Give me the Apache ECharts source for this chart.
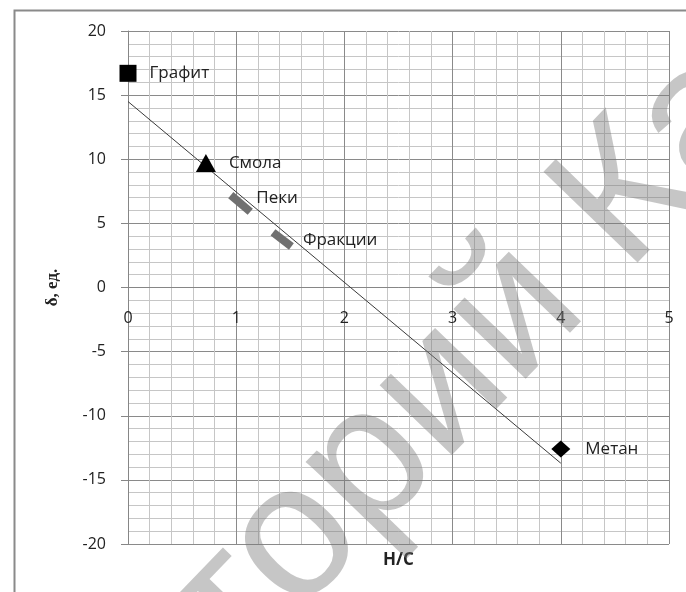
<!DOCTYPE html>
<html>
<head>
<meta charset="utf-8">
<script src="https://cdn.jsdelivr.net/npm/echarts@6/dist/echarts.min.js"></script>
<style>
  html, body { margin: 0; padding: 0; background: #fff; }
  #chart { width: 686px; height: 592px; }
</style>
</head>
<body>
<div id="chart"></div>
<script>
// Axis ranges and ticks
const xTicks = [0, 1, 2, 3, 4, 5];
const yTicks = [-20, -15, -10, -5, 0, 5, 10, 15, 20];

// Point samples: [H/C, δ]
const graphite = [[0, 16.7]];
const resin = [[0.72, 9.7]];
const pitch = [[0.95, 7.2], [1.13, 5.9]];
const fractions = [[1.34, 4.3], [1.51, 3.2]];
const methane = [[4, -12.6]];

// Linear fit endpoints
const trend = [[0, 14.5], [4, -13.7]];

const names = ['Графит', 'Смола', 'Пеки', 'Фракции', 'Метан'];
const xName = 'H/C';
const yName = 'δ, ед.';
const watermarkText = 'Репозиторий Ка';

const labelFont = 'Open Sans';
const chart = echarts.init(document.getElementById('chart'), null, { renderer: 'canvas' });

// Watermark: the glyph "р" of "...тор..." starts at a fixed point on a 46° baseline
const wmSize = 190;
const wmFont = wmSize + 'px "Liberation Sans"';
const mctx = document.createElement('canvas').getContext('2d');
mctx.font = wmFont;
const prefixW = mctx.measureText('Репозито').width;
const wmAngle = 46 * Math.PI / 180;
const wmShift = 20;
const wmAnchor = [346, 518];

const gridLeft = 128, gridTop = 31, gridW = 541, gridH = 513;

function textLabel(text, distance, offset) {
  return {
    show: true, position: 'right', distance: distance, offset: offset || [0, 0],
    formatter: text, fontFamily: labelFont, fontSize: 17, color: '#222'
  };
}

chart.setOption({
  animation: false,
  backgroundColor: '#fff',
  grid: { left: gridLeft, top: gridTop, width: gridW, height: gridH, containLabel: false },
  xAxis: {
    type: 'value', min: xTicks[0], max: xTicks[xTicks.length - 1], interval: 1,
    position: 'bottom', offset: -gridH / 2,
    axisLine: { onZero: false, lineStyle: { color: '#868686', width: 1 } },
    axisTick: { show: false },
    axisLabel: { margin: 23, fontFamily: labelFont, fontSize: 16, color: '#222' },
    splitLine: { show: true, lineStyle: { color: '#8a8a8a', width: 1 } },
    minorTick: { show: false, splitNumber: 5 },
    minorSplitLine: { show: true, lineStyle: { color: '#c6c6c6', width: 1 } }
  },
  yAxis: {
    type: 'value', min: yTicks[0], max: yTicks[yTicks.length - 1], interval: 5,
    axisLine: { show: true, onZero: false, lineStyle: { color: '#868686', width: 1 } },
    axisTick: { show: true, length: 7, lineStyle: { color: '#868686' } },
    axisLabel: { margin: 22, fontFamily: labelFont, fontSize: 16, color: '#222' },
    splitLine: { show: true, lineStyle: { color: '#8a8a8a', width: 1 } },
    minorTick: { show: false, splitNumber: 5 },
    minorSplitLine: { show: true, lineStyle: { color: '#c6c6c6', width: 1 } },
    name: yName, nameLocation: 'middle', nameGap: 67, nameRotate: 90,
    nameTextStyle: { fontFamily: 'Liberation Serif', fontWeight: 'bold', fontSize: 17, color: '#222' }
  },
  series: [
    {
      type: 'line', data: trend, symbol: 'none', silent: true,
      lineStyle: { color: '#3a3a3a', width: 1 }, z: 3
    },
    {
      type: 'scatter', name: names[0], data: graphite, symbol: 'rect', symbolSize: 17,
      itemStyle: { color: '#000', opacity: 1 }, label: textLabel(names[0], 13), z: 4
    },
    {
      type: 'scatter', name: names[1], data: resin, symbol: 'triangle', symbolSize: [20, 18],
      itemStyle: { color: '#000', opacity: 1 }, label: textLabel(names[1], 13), z: 4
    },
    {
      type: 'line', name: names[2], symbol: 'circle', symbolSize: 1, showSymbol: true,
      data: [
        { value: pitch[0], label: textLabel(names[2], 25, [0, 3]) },
        { value: pitch[1] }
      ],
      itemStyle: { color: 'rgba(0,0,0,0)' },
      lineStyle: { color: '#707070', width: 8, cap: 'butt' }, z: 4
    },
    {
      type: 'line', name: names[3], symbol: 'circle', symbolSize: 1, showSymbol: true,
      data: [
        { value: fractions[0] },
        { value: fractions[1], label: textLabel(names[3], 11, [0, -6]) }
      ],
      itemStyle: { color: 'rgba(0,0,0,0)' },
      lineStyle: { color: '#707070', width: 8, cap: 'butt' }, z: 4
    },
    {
      type: 'scatter', name: names[4], data: methane, symbol: 'diamond', symbolSize: [19, 17],
      itemStyle: { color: '#000', opacity: 1 }, label: textLabel(names[4], 15), z: 4
    }
  ],
  graphic: [
    {
      type: 'text', x: gridLeft + gridW / 2, y: 560, z: 50, silent: true,
      style: {
        text: xName, font: 'bold 17px "Open Sans"', fill: '#222',
        align: 'center', verticalAlign: 'middle'
      }
    },
    {
      type: 'rect', left: 12, top: 8, z: 100, silent: true,
      shape: { width: 720, height: 640 },
      style: { fill: 'none', stroke: '#8a8a8a', lineWidth: 2 }
    },
    {
      type: 'text', x: wmAnchor[0], y: wmAnchor[1], rotation: wmAngle, z: 101, silent: true,
      style: {
        text: watermarkText, x: -prefixW, y: -wmShift,
        font: wmFont, fill: 'rgba(120,120,120,0.42)',
        align: 'left', verticalAlign: 'middle'
      }
    }
  ]
});
</script>
</body>
</html>
